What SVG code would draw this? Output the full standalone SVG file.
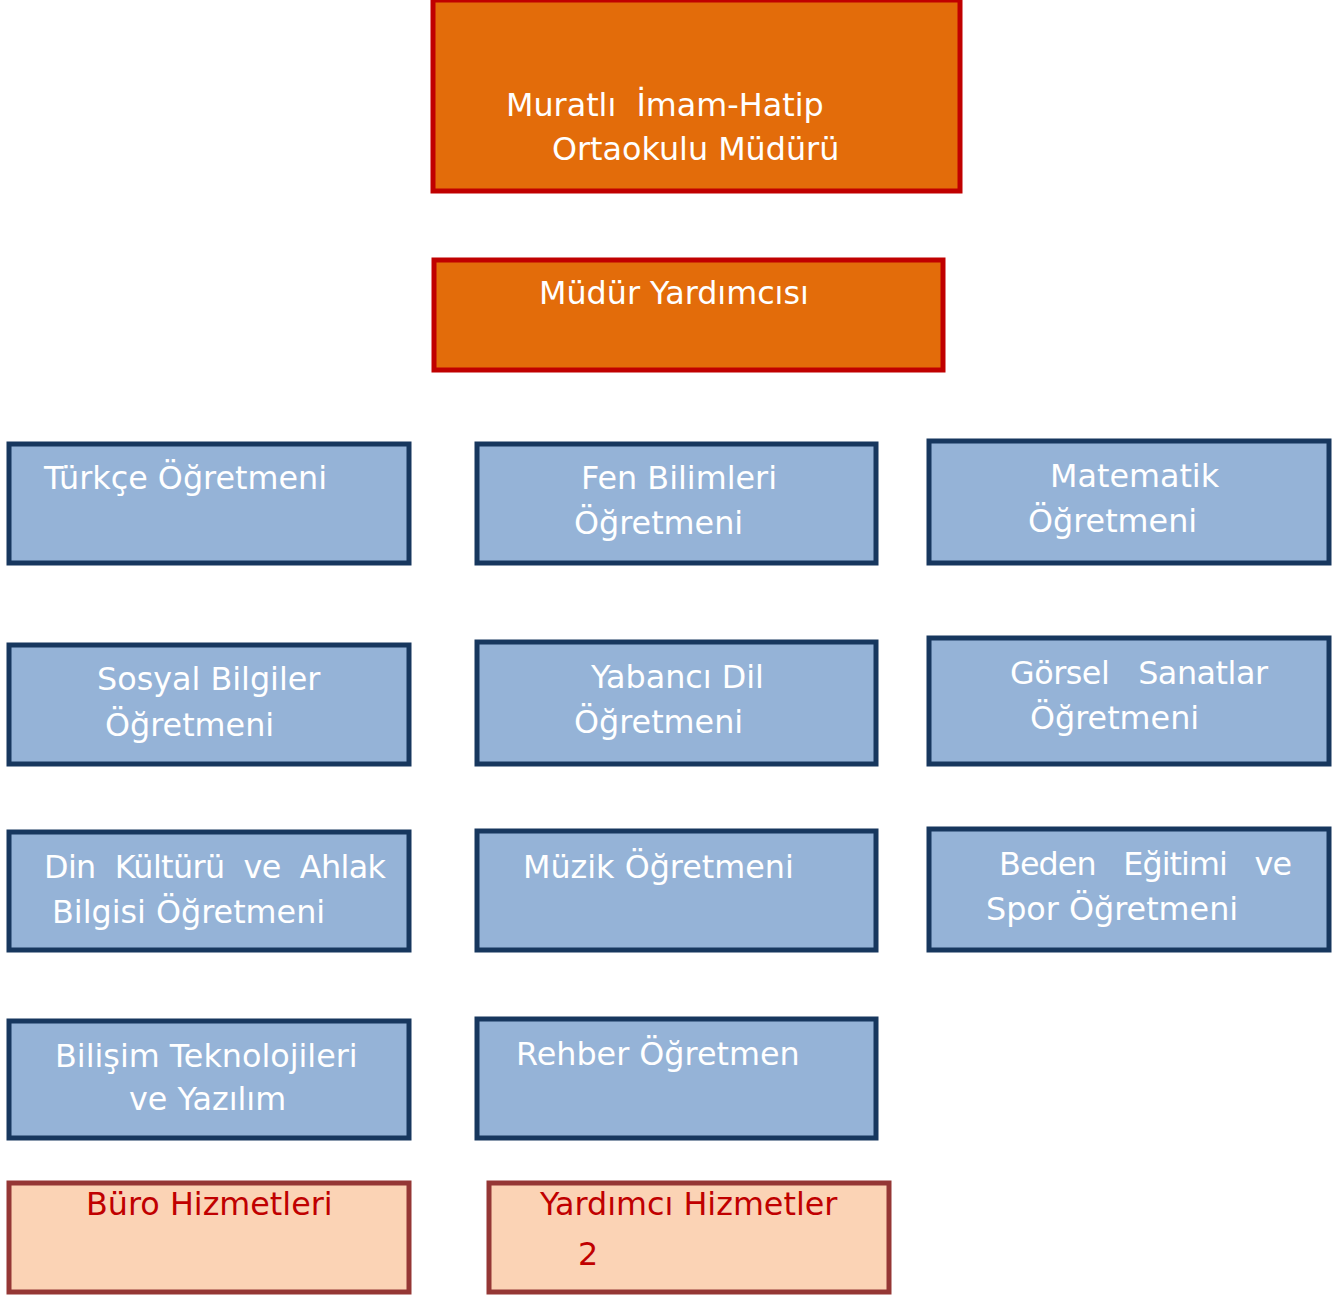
<svg xmlns="http://www.w3.org/2000/svg" width="1337" height="1295" viewBox="0 0 1337 1295">
<style>
.o{fill:#E36C0A;stroke:#C00000;stroke-width:5}
.b{fill:#95B3D7;stroke:#17375E;stroke-width:5}
.p{fill:#FBD3B5;stroke:#953735;stroke-width:5}
text{font-family:"DejaVu Sans",Verdana,sans-serif;font-size:31.8px;fill:#FFFFFF;white-space:pre}
.r{fill:#C00000}
</style>
<rect width="1337" height="1295" fill="#FFFFFF"/>
<g id="connectors"></g>
<g id="mudur"><rect class="o" x="433" y="0" width="527" height="191"/>
<text x="506" y="116" xml:space="preserve">Muratlı  İmam-Hatip</text>
<text x="552" y="160">Ortaokulu Müdürü</text></g>
<g id="mudur-yardimcisi"><rect class="o" x="434" y="260" width="509" height="110"/>
<text x="539" y="304">Müdür Yardımcısı</text></g>
<g id="turkce"><rect class="b" x="9" y="444" width="400" height="119"/>
<text x="44" y="489">Türkçe Öğretmeni</text></g>
<g id="fen"><rect class="b" x="477" y="444" width="399" height="119"/>
<text x="581" y="489">Fen Bilimleri</text><text x="574" y="534">Öğretmeni</text></g>
<g id="matematik"><rect class="b" x="929" y="441" width="400" height="122"/>
<text x="1050" y="487">Matematik</text><text x="1028" y="532">Öğretmeni</text></g>
<g id="sosyal"><rect class="b" x="9" y="645" width="400" height="119"/>
<text x="97" y="690">Sosyal Bilgiler</text><text x="105" y="736">Öğretmeni</text></g>
<g id="yabanci"><rect class="b" x="477" y="642" width="399" height="122"/>
<text x="591" y="688">Yabancı Dil</text><text x="574" y="733">Öğretmeni</text></g>
<g id="gorsel"><rect class="b" x="929" y="638" width="400" height="126"/>
<text x="1010" y="684" xml:space="preserve" textLength="258" lengthAdjust="spacing">Görsel   Sanatlar</text><text x="1030" y="729">Öğretmeni</text></g>
<g id="din"><rect class="b" x="9" y="832" width="400" height="118"/>
<text x="44" y="878" xml:space="preserve" textLength="342" lengthAdjust="spacing">Din  Kültürü  ve  Ahlak</text><text x="52" y="923">Bilgisi Öğretmeni</text></g>
<g id="muzik"><rect class="b" x="477" y="831" width="399" height="119"/>
<text x="523" y="878">Müzik Öğretmeni</text></g>
<g id="beden"><rect class="b" x="929" y="829" width="400" height="121"/>
<text x="999" y="875" xml:space="preserve" textLength="293" lengthAdjust="spacing">Beden   Eğitimi   ve</text><text x="986" y="920">Spor Öğretmeni</text></g>
<g id="bilisim"><rect class="b" x="9" y="1021" width="400" height="117"/>
<text x="55" y="1067">Bilişim Teknolojileri</text><text x="129" y="1110">ve Yazılım</text></g>
<g id="rehber"><rect class="b" x="477" y="1019" width="399" height="119"/>
<text x="516" y="1065">Rehber Öğretmen</text></g>
<g id="buro"><rect class="p" x="9" y="1183" width="400" height="109"/>
<text class="r" x="86" y="1215">Büro Hizmetleri</text></g>
<g id="yardimci"><rect class="p" x="489" y="1183" width="400" height="109"/>
<text class="r" x="540" y="1215">Yardımcı Hizmetler</text><text class="r" x="578" y="1265">2</text></g>
</svg>
